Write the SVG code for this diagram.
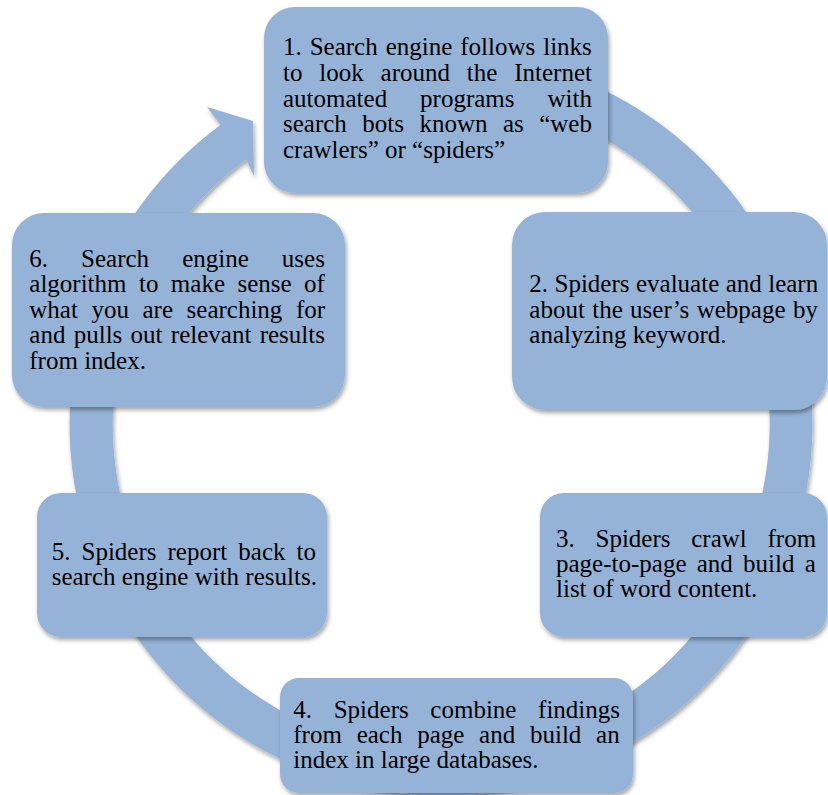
<svg xmlns="http://www.w3.org/2000/svg" width="828" height="795" viewBox="0 0 828 795">
  <defs>
    <filter id="sh" x="-10%" y="-10%" width="120%" height="125%">
      <feDropShadow dx="1.5" dy="3" stdDeviation="2" flood-color="#000" flood-opacity="0.35"/>
    </filter>
  </defs>
  <style>
    .box { fill: #95B3D7; filter: url(#sh); }
    .ring { fill: #95B3D7; filter: url(#sh); }
    text { font-family: "Liberation Serif", "Times New Roman", serif; font-size: 25px; fill: #000; }
  </style>
  <rect x="0" y="0" width="828" height="795" fill="#fff"/>
  <g id="connectors">
    <path class="ring" d="M 313.9 74.9 A 371.5 371.5 0 1 1 220.5 125.0 L 207 107 L 253 121 L 254 176 L 246.1 159.6 A 328.5 328.5 0 1 0 328.6 115.3 Z"/>
  </g>
  <g id="node1">
    <rect class="box" x="264" y="7" width="344" height="186" rx="31"/>
    <text x="283" y="55" word-spacing="1.7">1. Search engine follows links</text>
    <text x="283" y="80.8" word-spacing="10.6">to look around the Internet</text>
    <text x="283" y="106.6" word-spacing="26.7">automated programs with</text>
    <text x="283" y="132.4" word-spacing="9.2">search bots known as “web</text>
    <text x="283" y="158.2">crawlers” or “spiders”</text>
  </g>
  <g id="node2">
    <rect class="box" x="512" y="212" width="315" height="198" rx="33"/>
    <text x="529.3" y="291.7" word-spacing="0.2">2. Spiders evaluate and learn</text>
    <text x="529.3" y="317.5" word-spacing="1.1">about the user’s webpage by</text>
    <text x="529.3" y="343.3">analyzing keyword.</text>
  </g>
  <g id="node3">
    <rect class="box" x="540" y="493" width="287" height="144" rx="24"/>
    <text x="556" y="546.7" word-spacing="14.5">3. Spiders crawl from</text>
    <text x="556" y="572" word-spacing="4">page-to-page and build a</text>
    <text x="556" y="597.3">list of word content.</text>
  </g>
  <g id="node4">
    <rect class="box" x="280" y="678" width="353" height="115" rx="19"/>
    <text x="293.3" y="718.3" word-spacing="15.4">4. Spiders combine findings</text>
    <text x="293.3" y="743.3" word-spacing="8.5">from each page and build an</text>
    <text x="293.3" y="768.3">index in large databases.</text>
  </g>
  <g id="node5">
    <rect class="box" x="37" y="493" width="290" height="144" rx="24"/>
    <text x="51.7" y="560" word-spacing="4.8">5. Spiders report back to</text>
    <text x="51.7" y="585">search engine with results.</text>
  </g>
  <g id="node6">
    <rect class="box" x="12" y="213" width="333" height="194" rx="32"/>
    <text x="29.3" y="266.7" word-spacing="26.8">6. Search engine uses</text>
    <text x="29.3" y="292.2" word-spacing="6.2">algorithm to make sense of</text>
    <text x="29.3" y="317.7" word-spacing="7.3">what you are searching for</text>
    <text x="29.3" y="343.2" word-spacing="2.05">and pulls out relevant results</text>
    <text x="29.3" y="368.7">from index.</text>
  </g>
</svg>
